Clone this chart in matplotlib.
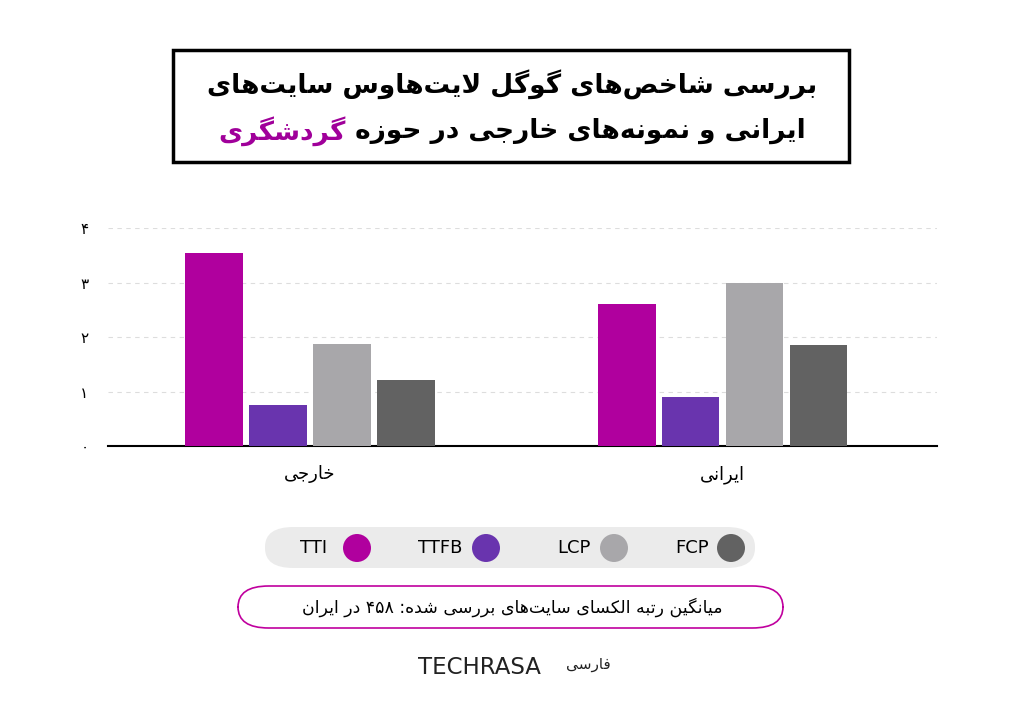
import matplotlib
matplotlib.use("Agg")
import matplotlib.pyplot as plt
import numpy as np
from matplotlib.patches import FancyBboxPatch, Rectangle, Ellipse

plt.rcParams["font.family"] = ["DejaVu Sans"]

# --- минимальная сборка арабских форм (matplotlib сам не соединяет буквы) ---
FORMS = {
    "ا": (0xFE8D, 0xFE8E, None, None), "آ": (0xFE81, 0xFE82, None, None),
    "ب": (0xFE8F, 0xFE90, 0xFE91, 0xFE92), "پ": (0xFB56, 0xFB57, 0xFB58, 0xFB59),
    "ت": (0xFE95, 0xFE96, 0xFE97, 0xFE98), "ث": (0xFE99, 0xFE9A, 0xFE9B, 0xFE9C),
    "ج": (0xFE9D, 0xFE9E, 0xFE9F, 0xFEA0), "چ": (0xFB7A, 0xFB7B, 0xFB7C, 0xFB7D),
    "ح": (0xFEA1, 0xFEA2, 0xFEA3, 0xFEA4), "خ": (0xFEA5, 0xFEA6, 0xFEA7, 0xFEA8),
    "د": (0xFEA9, 0xFEAA, None, None), "ذ": (0xFEAB, 0xFEAC, None, None),
    "ر": (0xFEAD, 0xFEAE, None, None), "ز": (0xFEAF, 0xFEB0, None, None),
    "ژ": (0xFB8A, 0xFB8B, None, None),
    "س": (0xFEB1, 0xFEB2, 0xFEB3, 0xFEB4), "ش": (0xFEB5, 0xFEB6, 0xFEB7, 0xFEB8),
    "ص": (0xFEB9, 0xFEBA, 0xFEBB, 0xFEBC), "ض": (0xFEBD, 0xFEBE, 0xFEBF, 0xFEC0),
    "ط": (0xFEC1, 0xFEC2, 0xFEC3, 0xFEC4), "ظ": (0xFEC5, 0xFEC6, 0xFEC7, 0xFEC8),
    "ع": (0xFEC9, 0xFECA, 0xFECB, 0xFECC), "غ": (0xFECD, 0xFECE, 0xFECF, 0xFED0),
    "ف": (0xFED1, 0xFED2, 0xFED3, 0xFED4), "ق": (0xFED5, 0xFED6, 0xFED7, 0xFED8),
    "ک": (0xFB8E, 0xFB8F, 0xFB90, 0xFB91), "گ": (0xFB92, 0xFB93, 0xFB94, 0xFB95),
    "ل": (0xFEDD, 0xFEDE, 0xFEDF, 0xFEE0), "م": (0xFEE1, 0xFEE2, 0xFEE3, 0xFEE4),
    "ن": (0xFEE5, 0xFEE6, 0xFEE7, 0xFEE8), "ه": (0xFEE9, 0xFEEA, 0xFEEB, 0xFEEC),
    "و": (0xFEED, 0xFEEE, None, None), "ی": (0xFBFC, 0xFBFD, 0xFBFE, 0xFBFF),
}


def shape(text):
    chars = list(text)
    out = []
    i = 0
    while i < len(chars):
        c = chars[i]
        if c not in FORMS:
            if c != "\u200c":
                out.append(c)
            i += 1
            continue
        prev = chars[i - 1] if i > 0 else ""
        joins_prev = prev in FORMS and FORMS[prev][2] is not None
        if c == "ل" and i + 1 < len(chars) and chars[i + 1] == "ا":
            out.append(chr(0xFEFC if joins_prev else 0xFEFB))
            i += 2
            continue
        nxt = chars[i + 1] if i + 1 < len(chars) else ""
        joins_next = FORMS[c][2] is not None and nxt in FORMS
        iso, fin, ini, med = FORMS[c]
        if joins_prev and joins_next:
            code = med
        elif joins_prev:
            code = fin
        elif joins_next:
            code = ini
        else:
            code = iso
        out.append(chr(code))
        i += 1
    # визуальный порядок: справа налево, цифры и латиница остаются слева направо
    vis = "".join(out)[::-1]
    res, run = [], ""
    for ch in vis:
        if ch.isdigit() or ch.isascii() and ch.isalnum():
            run += ch
        else:
            res.append(run[::-1])
            run = ""
            res.append(ch)
    res.append(run[::-1])
    return "".join(res)


categories = ["خارجی", "ایرانی"]
series = ["TTI", "TTFB", "LCP", "FCP"]
values = {
    "TTI": [3.55, 2.6],
    "TTFB": [0.75, 0.9],
    "LCP": [1.88, 3.0],
    "FCP": [1.22, 1.85],
}
colors = {"TTI": "#B0009E", "TTFB": "#6934AE", "LCP": "#A8A7AA", "FCP": "#626262"}
y_ticks = [0, 1, 2, 3, 4]
y_labels = ["۰", "۱", "۲", "۳", "۴"]

fig = plt.figure(figsize=(10.24, 7.04), dpi=100)
W, H = 1024, 704


def fx(px):
    return px / W


def fy(py):
    return 1 - py / H


ax = fig.add_axes([fx(108), fy(446), fx(937 - 108), (446 - 228) / H])
x = np.arange(len(categories))
width = 0.14
step = 0.155
for k, name in enumerate(series):
    ax.bar(x + (k - 1.5) * step, values[name], width, color=colors[name], zorder=3)

ax.set_xlim(-0.49, 1.52)
ax.set_ylim(0, 4)
ax.set_yticks(y_ticks)
ax.set_yticklabels(y_labels, fontsize=11)
ax.set_xticks(x)
ax.set_xticklabels([shape(c) for c in categories], fontsize=13)
ax.tick_params(length=0, pad=14)
ax.tick_params(axis="x", pad=14)
for s in ["top", "right", "left"]:
    ax.spines[s].set_visible(False)
ax.spines["bottom"].set_linewidth(1.5)
ax.grid(axis="y", linestyle=(0, (4, 4)), color="#DDDDDD", zorder=0)

# заголовок в рамке
fig.patches.append(Rectangle((fx(173), fy(162)), fx(849 - 173), (162 - 50) / H,
                             transform=fig.transFigure, fill=False, lw=2.5, ec="black"))
fig.text(0.5, fy(85), shape("بررسی شاخص‌های گوگل لایت‌هاوس سایت‌های"),
         ha="center", va="center", fontsize=19, fontweight="bold")
t_rest = fig.text(0.5, fy(131), shape("ایرانی و نمونه‌های خارجی در حوزه "),
                  ha="left", va="center", fontsize=19, fontweight="bold")
t_purple = fig.text(0.5, fy(131), shape("گردشگری"), ha="right", va="center",
                    fontsize=19, fontweight="bold", color="#A0009A")
fig.canvas.draw()
r = fig.canvas.get_renderer()
w1 = t_rest.get_window_extent(r).width
w2 = t_purple.get_window_extent(r).width
split = 0.5 + (w2 - w1) / 2 / W
t_rest.set_x(split)
t_purple.set_x(split)

# легенда
fig.patches.append(FancyBboxPatch((fx(265), fy(568)), fx(490), 41 / H,
                                  boxstyle="round,pad=0,rounding_size=0.028",
                                  transform=fig.transFigure, fc="#EBEBEB", ec="none"))
legend_pos = {"TTI": (327, 357), "TTFB": (462, 486), "LCP": (591, 614), "FCP": (709, 731)}
for name in series:
    tx, cx = legend_pos[name]
    fig.text(fx(tx), fy(548), name, ha="right", va="center", fontsize=13)
    fig.patches.append(Ellipse((fx(cx), fy(548)), 28 / W, 28 / H, transform=fig.transFigure,
                               fc=colors[name], ec="none"))

# примечание
fig.patches.append(FancyBboxPatch((fx(238), fy(628)), fx(545), 42 / H,
                                  boxstyle="round,pad=0,rounding_size=0.03",
                                  transform=fig.transFigure, fc="white", ec="#C0009E", lw=1.2))
fig.text(0.5, fy(607), shape("میانگین رتبه الکسای سایت‌های بررسی شده: ۴۵۸ در ایران"),
         ha="center", va="center", fontsize=12.5)

# логотип
fig.text(fx(418), fy(667), "TECHRASA", ha="left", va="center", fontsize=16.5,
         color="#222222")
fig.text(fx(566), fy(665), shape("فارسی"), ha="left", va="center", fontsize=11,
         color="#222222")

fig.savefig("out.png", dpi=100)
